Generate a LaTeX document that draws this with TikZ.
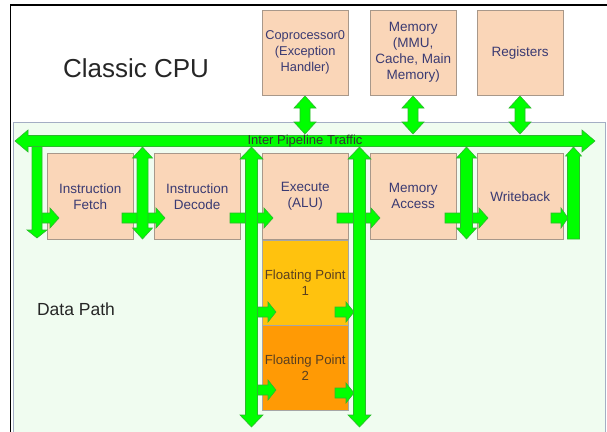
\documentclass[tikz,border=0pt]{standalone}
\usepackage{fontspec}
\setmainfont{Liberation Sans}
\definecolor{peach}{HTML}{FAD6B8}
\definecolor{boxline}{HTML}{A8988A}
\definecolor{txtblue}{HTML}{3A3A72}
\definecolor{gfill}{HTML}{00FF00}
\definecolor{gline}{HTML}{2EB82E}
\definecolor{dpfill}{HTML}{F0FCF0}
\definecolor{dpline}{HTML}{A4AEC4}
\definecolor{fpone}{HTML}{FFC20E}
\definecolor{fptwo}{HTML}{FF9A05}
\definecolor{fptxt}{HTML}{5A4020}
\tikzset{
  unitbox/.style={draw=boxline, fill=peach, minimum width=86pt, minimum height=86pt,
    anchor=north west, align=center, text=txtblue, inner sep=0pt,
    font=\fontsize{13.5}{16}\selectfont},
  topbox/.style={unitbox, minimum height=85pt},
  fpbox/.style={unitbox, draw=gray!70, text=fptxt, minimum height=85pt,
    font=\fontsize{13.2}{16}\selectfont},
  garrow/.style={fill=gfill, draw=gline, line width=0.6pt, line join=miter},
}
% vertical double arrow: x, ytop, ybot, half shaft, half head, head length
\newcommand\vdarrow[6]{\filldraw[garrow] (#1,#2) -- ({#1+#5},{#2+#6}) -- ({#1+#4},{#2+#6}) -- ({#1+#4},{#3-#6}) -- ({#1+#5},{#3-#6}) -- (#1,#3) -- ({#1-#5},{#3-#6}) -- ({#1-#4},{#3-#6}) -- ({#1-#4},{#2+#6}) -- ({#1-#5},{#2+#6}) -- cycle;}
% down arrow
\newcommand\vdown[6]{\filldraw[garrow] ({#1-#4},#2) -- ({#1+#4},#2) -- ({#1+#4},{#3-#6}) -- ({#1+#5},{#3-#6}) -- (#1,#3) -- ({#1-#5},{#3-#6}) -- ({#1-#4},{#3-#6}) -- cycle;}
% up arrow: x, ytop(tip), ybot
\newcommand\vup[6]{\filldraw[garrow] ({#1-#4},#3) -- ({#1+#4},#3) -- ({#1+#4},{#2+#6}) -- ({#1+#5},{#2+#6}) -- (#1,#2) -- ({#1-#5},{#2+#6}) -- ({#1-#4},{#2+#6}) -- cycle;}
% right arrow: x1, x2(tip), y, half shaft, half head, head length
\newcommand\hright[6]{\filldraw[garrow] (#1,{#3-#4}) -- ({#2-#6},{#3-#4}) -- ({#2-#6},{#3-#5}) -- (#2,#3) -- ({#2-#6},{#3+#5}) -- ({#2-#6},{#3+#4}) -- (#1,{#3+#4}) -- cycle;}
% horizontal double arrow
\newcommand\hdarrow[6]{\filldraw[garrow] (#1,#3) -- ({#1+#6},{#3-#5}) -- ({#1+#6},{#3-#4}) -- ({#2-#6},{#3-#4}) -- ({#2-#6},{#3-#5}) -- (#2,#3) -- ({#2-#6},{#3+#5}) -- ({#2-#6},{#3+#4}) -- ({#1+#6},{#3+#4}) -- ({#1+#6},{#3+#5}) -- cycle;}
\begin{document}
\begin{tikzpicture}[x=1pt,y=-1pt]
\useasboundingbox (0,0) rectangle (607,431);
\clip (0,0) rectangle (607,431);
\fill[white] (0,0) rectangle (607,431);
% data path area
\filldraw[fill=dpfill, draw=dpline, line width=0.8pt] (13,122) rectangle (605,445);
% frame
\draw[line width=1.6pt] (10.5,440) -- (10.5,5) -- (610,5);
% title
\node[font=\fontsize{26}{30}\selectfont, text=black!85] (title) at (136,68) {Classic CPU};
\node[font=\fontsize{17.5}{20}\selectfont, text=black!85] (dp) at (76,309) {Data Path};
% top boxes
\node[topbox, font=\fontsize{12.8}{16}\selectfont] (cop) at (262,10) {Coprocessor0\\(Exception\\Handler)};
\node[topbox] (mem) at (370,10) {Memory\\(MMU,\\Cache, Main\\Memory)};
\node[topbox] (reg) at (477,10) {Registers};
% pipeline boxes
\node[unitbox] (if) at (47,153) {Instruction\\Fetch};
\node[unitbox] (id) at (154,153) {Instruction\\Decode};
\node[unitbox] (ex) at (262,153) {Execute\\(ALU)};
\node[unitbox] (ma) at (370,153) {Memory\\Access};
\node[unitbox] (wb) at (477,153) {Writeback};
\node[fpbox, fill=fpone] (fp1) at (262,240) {Floating Point\\1};
\node[fpbox, fill=fptwo] (fp2) at (262,325) {Floating Point\\2};
% small horizontal arrows
\hright{41}{59}{218}{5}{10}{9}
\hright{122}{165}{218}{5}{10}{9}
\hright{230}{273}{218}{5}{10}{9}
\hright{337}{380}{218}{5}{10}{9}
\hright{445}{488}{218}{5}{10}{9}
\hright{551}{568}{218}{5}{10}{7}
\hright{257}{276}{312}{5}{10}{8}
\hright{335}{354}{312}{5}{10}{8}
\hright{257}{276}{390}{5}{10}{8}
\hright{335}{354}{393}{5}{10}{8}
% vertical arrows of the pipeline
\vdown{37}{145}{238}{5}{10}{8}
\vdarrow{142.5}{147}{239}{5.5}{10}{11}
\vdarrow{251.5}{147}{427}{6}{11.5}{12}
\vdarrow{359.5}{147}{427}{6}{11.5}{12}
\vdarrow{466.5}{147}{239}{6}{10}{11}
\vup{573.5}{147}{239}{6}{8}{9}
% top connectors
\vdarrow{305}{96}{134}{5}{11}{12}
\vdarrow{413}{96}{134}{5}{11}{12}
\vdarrow{520}{96}{134}{5}{11}{12}
% bus
\hdarrow{15}{595}{141}{5.5}{11}{13}
\node[font=\fontsize{13}{14}\selectfont, text=black!80, inner sep=0pt] (bus) at (305,141) {Inter Pipeline Traffic};
\end{tikzpicture}
\end{document}
